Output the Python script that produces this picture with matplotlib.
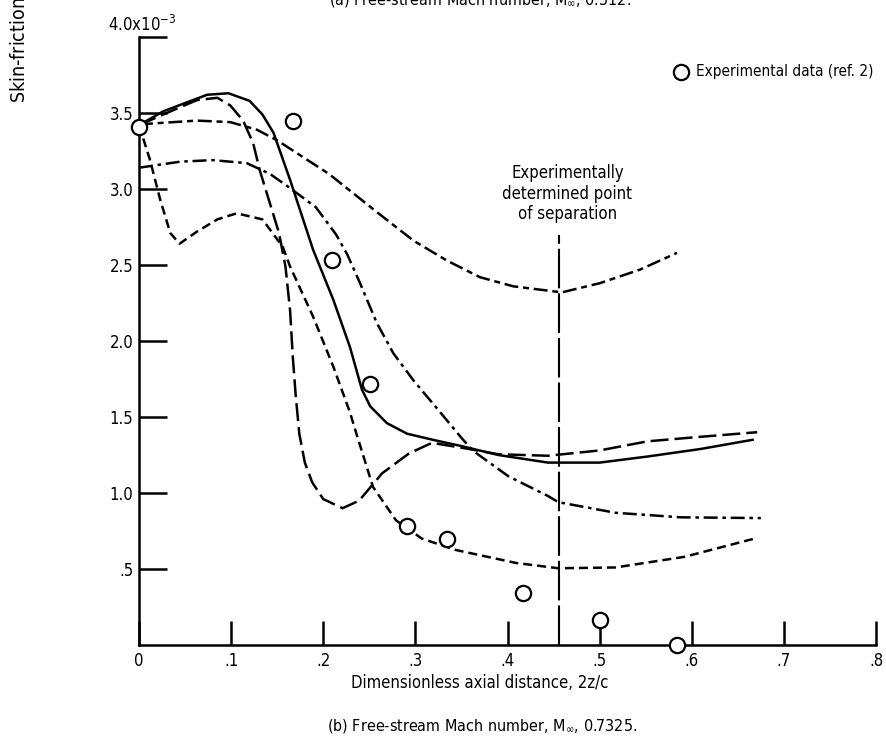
import matplotlib
matplotlib.use("Agg")
import matplotlib.pyplot as plt
from matplotlib import font_manager

# narrow face if one is installed, else condensed DejaVu
names = {f.name for f in font_manager.fontManager.ttflist}
if 'Liberation Sans Narrow' in names:
    plt.rcParams['font.family'] = ['Liberation Sans Narrow', 'DejaVu Sans']
else:
    plt.rcParams['font.family'] = ['DejaVu Sans']
    plt.rcParams['font.stretch'] = 'condensed'

# skin-friction coefficient (x 10^-3) vs 2z/c
solid_x = [0, 0.026, 0.052, 0.074, 0.097, 0.12, 0.134, 0.146, 0.164, 0.189, 0.211,
           0.229, 0.242, 0.251, 0.269, 0.291, 0.319, 0.349, 0.39, 0.444, 0.5,
           0.552, 0.61, 0.666]
solid_y = [3.42, 3.51, 3.57, 3.62, 3.63, 3.58, 3.49, 3.37, 3.06, 2.60, 2.27,
           1.96, 1.68, 1.57, 1.46, 1.39, 1.35, 1.31, 1.25, 1.20, 1.20,
           1.24, 1.29, 1.35]

longdash_x = [0, 0.03, 0.063, 0.085, 0.099, 0.113, 0.124, 0.131, 0.152, 0.159, 0.164,
              0.167, 0.170, 0.174, 0.180, 0.188, 0.20, 0.221, 0.239, 0.264, 0.293,
              0.318, 0.358, 0.39, 0.444, 0.5, 0.552, 0.61, 0.671]
longdash_y = [3.42, 3.50, 3.585, 3.60, 3.55, 3.45, 3.30, 3.125, 2.71, 2.49, 2.20,
              1.89, 1.65, 1.39, 1.20, 1.07, 0.96, 0.90, 0.95, 1.13, 1.26,
              1.33, 1.29, 1.255, 1.245, 1.28, 1.34, 1.37, 1.40]

upper_x = [0, 0.012, 0.063, 0.099, 0.128, 0.15, 0.206, 0.262, 0.298, 0.334, 0.37,
           0.406, 0.459, 0.5, 0.544, 0.584]
upper_y = [3.42, 3.43, 3.45, 3.44, 3.39, 3.32, 3.10, 2.83, 2.66, 2.53, 2.42,
           2.36, 2.32, 2.38, 2.47, 2.58]

dashdot_x = [0, 0.045, 0.08, 0.117, 0.142, 0.163, 0.192, 0.214, 0.226, 0.240, 0.258,
             0.276, 0.298, 0.323, 0.349, 0.362, 0.401, 0.444, 0.455, 0.517, 0.588,
             0.675]
dashdot_y = [3.14, 3.18, 3.19, 3.17, 3.10, 3.01, 2.88, 2.70, 2.57, 2.38, 2.12,
             1.92, 1.74, 1.56, 1.37, 1.28, 1.11, 0.98, 0.94, 0.87, 0.84,
             0.835]

short_x = [0, 0.012, 0.023, 0.034, 0.044, 0.063, 0.085, 0.106, 0.134, 0.156, 0.164,
           0.189, 0.211, 0.229, 0.236, 0.254, 0.279, 0.307, 0.344, 0.409, 0.455,
           0.517, 0.592, 0.668]
short_y = [3.42, 3.19, 2.93, 2.71, 2.64, 2.72, 2.80, 2.84, 2.80, 2.62, 2.49,
           2.16, 1.83, 1.53, 1.39, 1.04, 0.82, 0.70, 0.625, 0.54, 0.505,
           0.51, 0.58, 0.70]

exp_x = [0, 0.167, 0.21, 0.251, 0.291, 0.334, 0.417, 0.5, 0.584]
exp_y = [3.41, 3.45, 2.53, 1.72, 0.78, 0.70, 0.34, 0.165, 0.0]

sep_x = 0.456
sep_top = 2.70

xticks = [0, 0.1, 0.2, 0.3, 0.4, 0.5, 0.6, 0.7, 0.8]
xlabels = ['0', '.1', '.2', '.3', '.4', '.5', '.6', '.7', '.8']
yticks = [0.5, 1.0, 1.5, 2.0, 2.5, 3.0, 3.5, 4.0]
ylabels = ['.5', '1.0', '1.5', '2.0', '2.5', '3.0', '3.5', '']

fig = plt.figure(figsize=(8.86, 7.45), dpi=100)
ax = fig.add_axes([139 / 886, 1 - 645 / 745, 737 / 886, 608 / 745])

lw = 1.8
ax.plot(solid_x, solid_y, color='black', lw=lw)
ax.plot(longdash_x, longdash_y, color='black', lw=lw, dashes=(7.2, 2.4))
ax.plot(upper_x, upper_y, color='black', lw=lw, dashes=(5.6, 1.9, 2.4, 1.9))
ax.plot(dashdot_x, dashdot_y, color='black', lw=lw, dashes=(5.6, 1.9, 1.4, 1.9))
ax.plot(short_x, short_y, color='black', lw=lw, dashes=(3.6, 2.0))
ax.plot([sep_x, sep_x], [0, sep_top], color='black', lw=1.5, dashes=(19, 2.4))
ax.plot(exp_x, exp_y, 'o', ms=11, mfc='white', mec='black', mew=1.6,
        clip_on=False, zorder=5)

ax.set_xlim(0, 0.8)
ax.set_ylim(0, 4.0)
for s in ['top', 'right']:
    ax.spines[s].set_visible(False)
for s in ['left', 'bottom']:
    ax.spines[s].set_linewidth(1.8)

ax.set_xticks(xticks)
ax.set_xticklabels(xlabels)
ax.set_yticks(yticks)
ax.set_yticklabels(ylabels)
ax.tick_params(axis='x', direction='in', length=17, width=1.8, pad=5, labelsize=12)
ax.tick_params(axis='y', direction='in', length=20, width=1.8, pad=4, labelsize=12)

ax.text(-0.034, 4.08, '4.0x10$^{-3}$', ha='left', va='center', fontsize=12,
        clip_on=False)

# legend
ax.plot([0.5885], [3.77], 'o', ms=11, mfc='white', mec='black', mew=1.6, clip_on=False)
ax.text(0.605, 3.77, 'Experimental data (ref. 2)', ha='left', va='center', fontsize=11)

ax.text(0.465, 2.97, 'Experimentally\ndetermined point\nof separation',
        ha='center', va='center', fontsize=12, linespacing=1.15)

fig.text(480 / 886, 1 - 683 / 745, 'Dimensionless axial distance, 2z/c',
         ha='center', va='center', fontsize=12)
fig.text(482 / 886, 1 - 726 / 745, '(b) Free-stream Mach number, M$_{\\infty}$, 0.7325.',
         ha='center', va='center', fontsize=11.5)
fig.text(480 / 886, 1 - 0 / 745, '(a) Free-stream Mach number, M$_{\\infty}$, 0.512.',
         ha='center', va='center', fontsize=11.5)
fig.text(20 / 886, 1 - 103 / 745, 'Skin-friction coefficient, c$_f$',
         ha='center', va='bottom', rotation=90, fontsize=14)

fig.savefig('out.png', dpi=100)
